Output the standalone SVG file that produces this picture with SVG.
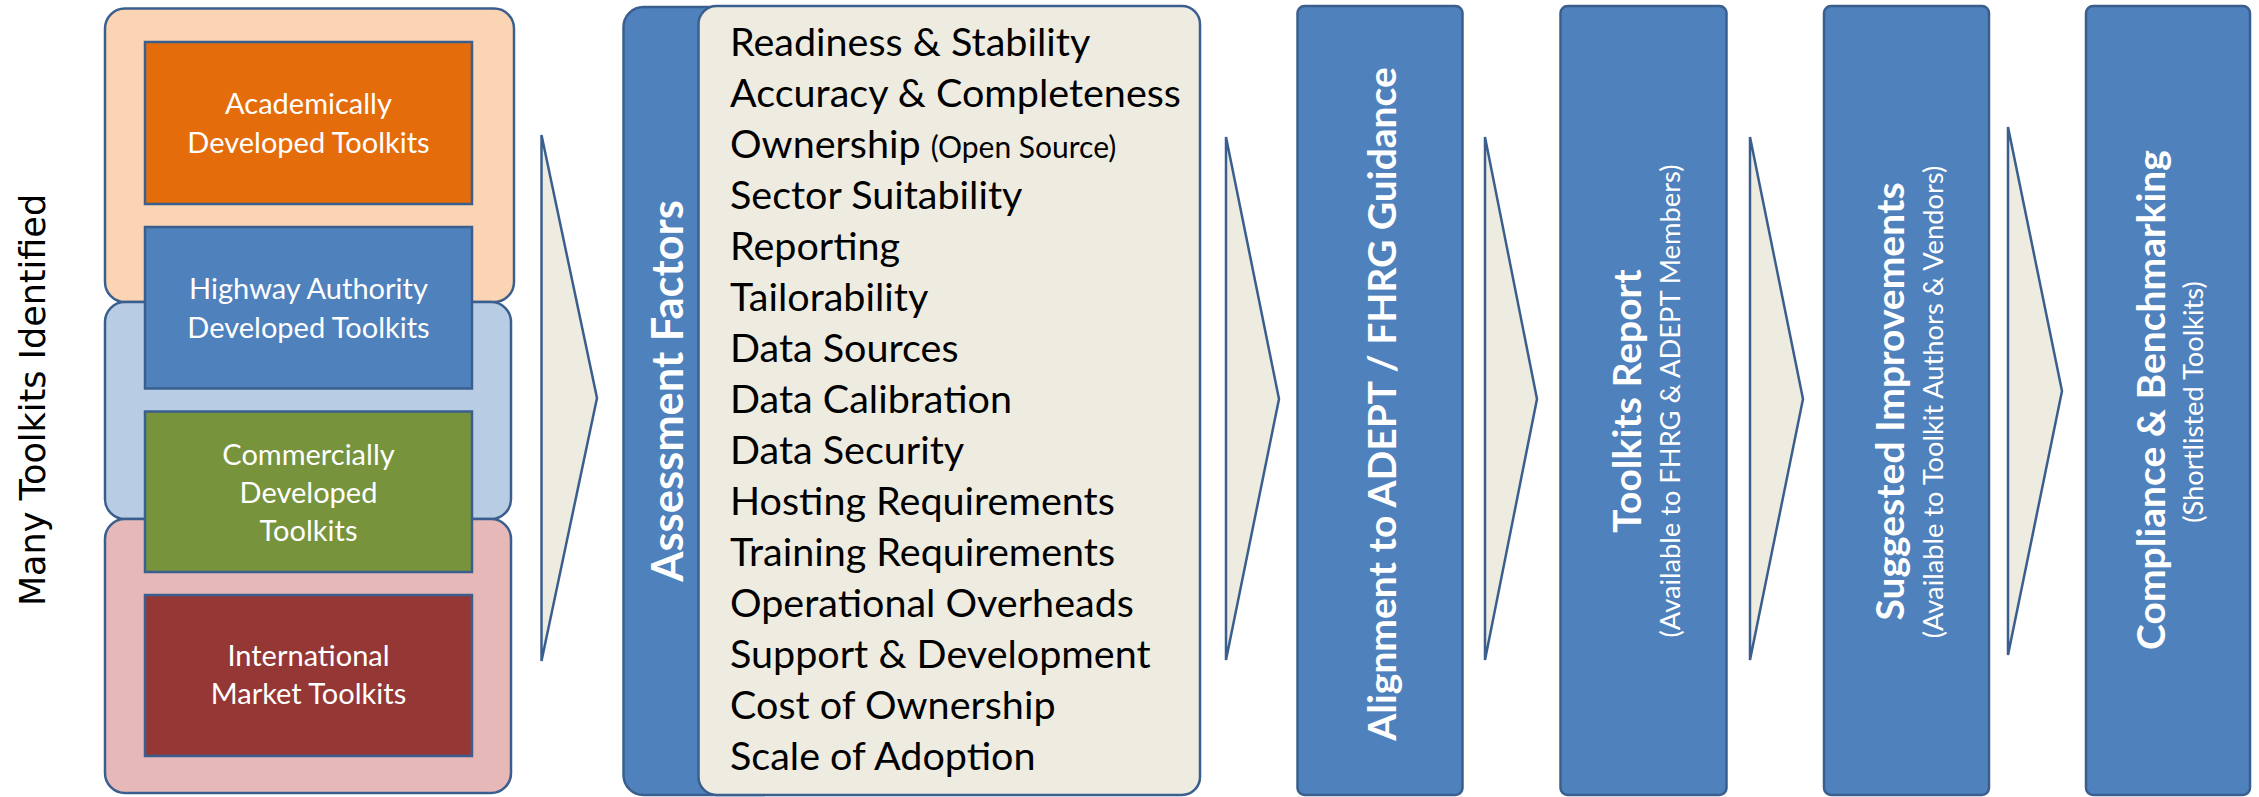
<svg xmlns="http://www.w3.org/2000/svg" width="2259" height="797" viewBox="0 0 2259 797">
<style>
.ol{stroke:#3A5F8E;stroke-width:2.5}
.tk{font-family:Lato,"Liberation Sans",sans-serif;font-size:29px;fill:#fff;text-anchor:middle}
.fac{font-family:Lato,"Liberation Sans",sans-serif;font-size:39.5px;fill:#000}
.vt{font-family:Lato,"Liberation Sans",sans-serif;font-weight:bold;font-size:39px;fill:#fff;text-anchor:middle}
.vs{font-family:Lato,"Liberation Sans",sans-serif;font-size:27.3px;fill:#fff;text-anchor:middle}
.step{fill:#4F81BD}
.arr{fill:#EEECE1;stroke:#3A5F8E;stroke-width:2.5;stroke-linejoin:miter}
</style>
<rect width="2259" height="797" fill="#fff"/>
<g id="title-left">
<text transform="translate(45,400) rotate(-90)" x="0" y="0" text-anchor="middle" style="font-family:'DejaVu Sans',Verdana,sans-serif;font-size:35px;fill:#000">Many Toolkits Identified</text>
</g>
<g id="group-peach"><rect class="ol" x="105" y="8.5" width="409" height="293.5" rx="20" fill="#FBD4B4"/></g>
<g id="group-lightblue"><rect class="ol" x="105" y="302" width="406" height="217" rx="20" fill="#B8CCE4"/></g>
<g id="group-pink"><rect class="ol" x="105" y="519" width="406" height="274" rx="20" fill="#E6B9B8"/></g>
<g id="academic">
<rect class="ol" x="145" y="42" width="327" height="162" fill="#E46C0A"/>
<text class="tk" x="308.5" y="114">Academically</text>
<text class="tk" x="308.5" y="153">Developed Toolkits</text>
</g>
<g id="highway">
<rect class="ol" x="145" y="227" width="327" height="161.5" fill="#4F81BD"/>
<text class="tk" x="308.5" y="299">Highway Authority</text>
<text class="tk" x="308.5" y="338">Developed Toolkits</text>
</g>
<g id="commercial">
<rect class="ol" x="145" y="411.5" width="327" height="160.5" fill="#77933C"/>
<text class="tk" x="308.5" y="464.5">Commercially</text>
<text class="tk" x="308.5" y="502.5">Developed</text>
<text class="tk" x="308.5" y="540.5">Toolkits</text>
</g>
<g id="international">
<rect class="ol" x="145" y="595" width="327" height="161" fill="#953735"/>
<text class="tk" x="308.5" y="666">International</text>
<text class="tk" x="308.5" y="704">Market Toolkits</text>
</g>
<g id="assessment">
<rect class="ol" x="623.5" y="7" width="160" height="788" rx="20" fill="#4F81BD"/>
<rect class="ol" x="698.5" y="6" width="501.5" height="789" rx="18" fill="#EEECE1"/>
<text class="vt" transform="translate(683,391) rotate(-90)" x="0" y="0" style="font-size:43.5px">Assessment Factors</text>
<text class="fac" x="730" y="55.5">Readiness &amp; Stability</text>
<text class="fac" x="730" y="106.5">Accuracy &amp; Completeness</text>
<text class="fac" x="730" y="157.5">Ownership <tspan style="font-size:30px">(Open Source)</tspan></text>
<text class="fac" x="730" y="208.5">Sector Suitability</text>
<text class="fac" x="730" y="259.5">Reporting</text>
<text class="fac" x="730" y="310.5">Tailorability</text>
<text class="fac" x="730" y="361.5">Data Sources</text>
<text class="fac" x="730" y="412.5">Data Calibration</text>
<text class="fac" x="730" y="463.5">Data Security</text>
<text class="fac" x="730" y="514.5">Hosting Requirements</text>
<text class="fac" x="730" y="565.5">Training Requirements</text>
<text class="fac" x="730" y="616.5">Operational Overheads</text>
<text class="fac" x="730" y="667.5">Support &amp; Development</text>
<text class="fac" x="730" y="718.5">Cost of Ownership</text>
<text class="fac" x="730" y="769.5">Scale of Adoption</text>
</g>
<g id="alignment">
<rect class="ol step" x="1297.5" y="6" width="165" height="789" rx="7"/>
<text class="vt" transform="translate(1396,404) rotate(-90)" x="0" y="0">Alignment to ADEPT / FHRG Guidance</text>
</g>
<g id="report">
<rect class="ol step" x="1560.5" y="6" width="166" height="789" rx="7"/>
<text class="vt" transform="translate(1641,401) rotate(-90)" x="0" y="0">Toolkits Report</text>
<text class="vs" transform="translate(1680,401) rotate(-90)" x="0" y="0">(Available to FHRG &amp; ADEPT Members)</text>
</g>
<g id="improvements">
<rect class="ol step" x="1824" y="6" width="165" height="789" rx="7"/>
<text class="vt" transform="translate(1904,401.5) rotate(-90)" x="0" y="0">Suggested Improvements</text>
<text class="vs" transform="translate(1942.5,402) rotate(-90)" x="0" y="0">(Available to Toolkit Authors &amp; Vendors)</text>
</g>
<g id="compliance">
<rect class="ol step" x="2086" y="6" width="164" height="789" rx="7"/>
<text class="vt" transform="translate(2165,400) rotate(-90)" x="0" y="0">Compliance &amp; Benchmarking</text>
<text class="vs" transform="translate(2203,402) rotate(-90)" x="0" y="0">(Shortlisted Toolkits)</text>
</g>
<g id="connectors">
<polygon class="arr" points="541.5,135 597,398 541.5,661"/>
<polygon class="arr" points="1226,137 1279,399 1226,660"/>
<polygon class="arr" points="1485,137 1537,399 1485,660"/>
<polygon class="arr" points="1750,137 1803,399 1750,660"/>
<polygon class="arr" points="2008,127 2062,391 2008,655"/>
</g>
</svg>
